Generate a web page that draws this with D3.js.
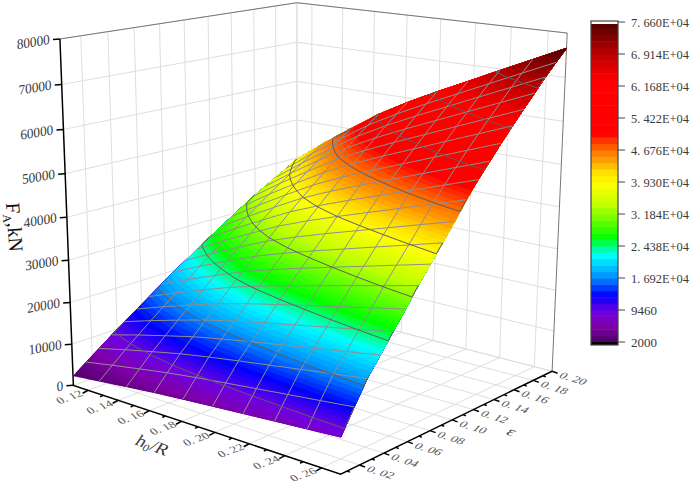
<!DOCTYPE html>
<html>
<head>
<meta charset="utf-8">
<script src="https://cdn.jsdelivr.net/npm/d3@7"></script>
<style>
  html, body { margin: 0; background: #fff; }
  text { font-family: "Liberation Serif", serif; fill: #3a3a3a; }
</style>
</head>
<body>
<script>
// values
var xValues = [0.11, 0.1278, 0.1456, 0.1633, 0.1811, 0.1989, 0.2167, 0.2344, 0.2522, 0.27];
var epsValues = [0.005, 0.0153, 0.0255, 0.0358, 0.0461, 0.0563, 0.0666, 0.0768, 0.0871, 0.0974,
                 0.1076, 0.1179, 0.1282, 0.1384, 0.1487, 0.1589, 0.1692, 0.1795, 0.1897, 0.2];
// one row per epsilon, one column per h0/R
var forceRows = [
  [2300, 3130, 3900, 4640, 5260, 5830, 6380, 6920, 7460, 8000],
  [4550, 5800, 6970, 8100, 9050, 9910, 10740, 11560, 12380, 13200],
  [6790, 8430, 9960, 11430, 12670, 13800, 14880, 15950, 17030, 18100],
  [9030, 10910, 12660, 14340, 15760, 17060, 18290, 19520, 20750, 21980],
  [11220, 13350, 15330, 17240, 18850, 20320, 21720, 23110, 24510, 25900],
  [13340, 15720, 17940, 20070, 21870, 23510, 25070, 26630, 28190, 29750],
  [15440, 18100, 20580, 22970, 24990, 26820, 28570, 30310, 32060, 33800],
  [17560, 20450, 23140, 25740, 27930, 29920, 31820, 33710, 35610, 37500],
  [19650, 22780, 25680, 28490, 30860, 33010, 35060, 37110, 39150, 41200],
  [21650, 25040, 28190, 31220, 33790, 36130, 38350, 40560, 42780, 45000],
  [23620, 27290, 30700, 33990, 36770, 39290, 41700, 44100, 46500, 48900],
  [25570, 29480, 33110, 36610, 39570, 42270, 44830, 47380, 49940, 52500],
  [27470, 31580, 35400, 39090, 42200, 45040, 47730, 50420, 53110, 55800],
  [29340, 33650, 37660, 41520, 44790, 47760, 50580, 53410, 56230, 59050],
  [31190, 35690, 39870, 43900, 47320, 50420, 53360, 56310, 59250, 62200],
  [33030, 37700, 42040, 46220, 49760, 52980, 56030, 59090, 62140, 65200],
  [34700, 39560, 44080, 48440, 52120, 55470, 58650, 61840, 65020, 68200],
  [36340, 41400, 46100, 50630, 54470, 57950, 61270, 64580, 67890, 71200],
  [37990, 43200, 48060, 52730, 56690, 60290, 63700, 67120, 70530, 73950],
  [39650, 45010, 50000, 54800, 58860, 62560, 66070, 69580, 73090, 76600]
];
var xTicks = [0.12, 0.14, 0.16, 0.18, 0.20, 0.22, 0.24, 0.26];
var xMinor = [0.13, 0.15, 0.17, 0.19, 0.21, 0.23, 0.25];
var epsTicks = [0.02, 0.04, 0.06, 0.08, 0.10, 0.12, 0.14, 0.16, 0.18, 0.20];
var epsMinor = [0.01, 0.03, 0.05, 0.07, 0.09, 0.11, 0.13, 0.15, 0.17, 0.19];
var zTicks = [0, 10000, 20000, 30000, 40000, 50000, 60000, 70000, 80000];
var barTicks = [2000, 9460, 16920, 24380, 31840, 39300, 46760, 54220, 61680, 69140, 76600];
var barLabels = ["2000", "9460", "1. 692E+04", "2. 438E+04", "3. 184E+04", "3. 930E+04", "4. 676E+04", "5. 422E+04", "6. 168E+04", "6. 914E+04", "7. 660E+04"];
var colorValues = [2000, 5960, 9000, 12950, 17150, 22280, 24380, 26240, 33900, 39000, 41600, 44400, 46760, 49800, 50700, 63000, 70000, 75900];
var colorStops = ["#4d0066", "#8000a8", "#7000e0", "#0000ff", "#0090ff", "#00ffff", "#00ff80", "#00ff00", "#c0ff00", "#ffff00", "#ffdf00", "#ffa000", "#ff7000", "#ff2000", "#ff0000", "#ff0000", "#b00000", "#5a0000"];

var w = 692;
var h = 492;

var svg = d3.select('body').append('svg').attr('width', w).attr('height', h).style('display', 'block');

// box corners on screen, [u, v, w, px, py]; the camera is fitted to them
var anchors = [
  [0, 0, 0, 73, 381], [1, 0, 0, 341, 478], [1, 1, 0, 552, 367], [0, 1, 0, 297, 310],
  [0, 0, 1, 60, 40], [1, 1, 1, 567, 34], [0, 1, 1, 297, 1]
];

function fitCamera(pts) {
  var rows = [], rhs = [];
  pts.forEach(function (p) {
    rows.push([p[0], p[1], p[2], 1, 0, 0, 0, 0, -p[3] * p[0], -p[3] * p[1], -p[3] * p[2]]);
    rhs.push(p[3]);
    rows.push([0, 0, 0, 0, p[0], p[1], p[2], 1, -p[4] * p[0], -p[4] * p[1], -p[4] * p[2]]);
    rhs.push(p[4]);
  });
  var m = d3.range(11).map(function (a) {
    return d3.range(12).map(function (b) {
      return d3.sum(rows, function (r, k) { return r[a] * (b < 11 ? r[b] : rhs[k]); });
    });
  });
  for (var i = 0; i < 11; i++) {
    var best = i;
    for (var j = i + 1; j < 11; j++) if (Math.abs(m[j][i]) > Math.abs(m[best][i])) best = j;
    var t = m[i]; m[i] = m[best]; m[best] = t;
    for (j = 0; j < 11; j++) {
      if (j == i) continue;
      var f = m[j][i] / m[i][i];
      for (var k = i; k < 12; k++) m[j][k] -= f * m[i][k];
    }
  }
  return m.map(function (r, a) { return r[11] / r[a]; });
}
var cam = fitCamera(anchors);

function project(u, v, z) {
  var d = cam[8] * u + cam[9] * v + cam[10] * z + 1;
  return [(cam[0] * u + cam[1] * v + cam[2] * z + cam[3]) / d,
          (cam[4] * u + cam[5] * v + cam[6] * z + cam[7]) / d];
}

var xScale = d3.scaleLinear().domain([0.11, 0.27]).range([0, 1]);
var epsScale = d3.scaleLinear().domain([0.005, 0.2]).range([0, 1]);
var zScale = d3.scaleLinear().domain([0, 80000]).range([0, 1]);

function pt(x, e, z) { return project(xScale(x), epsScale(e), zScale(z)); }

var xEnd = xScale.domain(), epsEnd = epsScale.domain(), zEnd = zScale.domain();
var line = d3.line();

// light grid on the walls and the floor
var grid = svg.append('g').attr('fill', 'none').attr('stroke', '#dedede').attr('stroke-width', 1);
function gridLine(a, b) { grid.append('path').attr('d', line([a, b])); }
xTicks.forEach(function (x) {
  gridLine(pt(x, epsEnd[0], 0), pt(x, epsEnd[1], 0));
  gridLine(pt(x, epsEnd[1], 0), pt(x, epsEnd[1], zEnd[1]));
});
epsTicks.forEach(function (e) {
  gridLine(pt(xEnd[0], e, 0), pt(xEnd[1], e, 0));
  gridLine(pt(xEnd[0], e, 0), pt(xEnd[0], e, zEnd[1]));
});
zTicks.forEach(function (z) {
  gridLine(pt(xEnd[0], epsEnd[0], z), pt(xEnd[0], epsEnd[1], z));
  gridLine(pt(xEnd[0], epsEnd[1], z), pt(xEnd[1], epsEnd[1], z));
});
gridLine(pt(xEnd[0], epsEnd[1], 0), pt(xEnd[0], epsEnd[1], zEnd[1]));

// frame
svg.append('path')
  .attr('d', line([pt(xEnd[0], epsEnd[0], zEnd[1]), pt(xEnd[0], epsEnd[1], zEnd[1]), pt(xEnd[1], epsEnd[1], zEnd[1]), pt(xEnd[1], epsEnd[1], 0)]))
  .attr('fill', 'none').attr('stroke', '#777').attr('stroke-width', 1);

// surface as filled bands
var colorScale = d3.scaleLinear().domain(colorValues).range(colorStops);
var levels = d3.range(51).map(function (k) { return 2000 + k * 1492; });
var fineLevels = d3.range(101).map(function (k) { return 2000 + k * 746; });
var nx = xValues.length, ne = epsValues.length;
var flat = d3.merge(forceRows);

function gridToScreen(c) {
  var fx = Math.max(0, Math.min(nx - 1, c[0] - 0.5));
  var fy = Math.max(0, Math.min(ne - 1, c[1] - 0.5));
  var i = Math.min(nx - 2, Math.floor(fx)), j = Math.min(ne - 2, Math.floor(fy));
  var a = fx - i, b = fy - j;
  var z = (1 - a) * (1 - b) * forceRows[j][i] + a * (1 - b) * forceRows[j][i + 1] +
          (1 - a) * b * forceRows[j + 1][i] + a * b * forceRows[j + 1][i + 1];
  var x = xValues[i] + a * (xValues[i + 1] - xValues[i]);
  var e = epsValues[j] + b * (epsValues[j + 1] - epsValues[j]);
  return pt(x, e, z);
}
function bandPath(rings) {
  return rings.map(function (r) {
    return 'M' + r.map(function (c) { return gridToScreen(c).join(','); }).join('L') + 'Z';
  }).join('');
}

var contourGen = d3.contours().size([nx, ne]).smooth(true);
var surface = svg.append('g');
contourGen.thresholds(fineLevels)(flat).forEach(function (c) {
  if (!c.coordinates.length) return;
  var d = c.coordinates.map(bandPath).join('');
  surface.append('path').attr('d', d).attr('fill', colorScale(c.value + 373))
    .attr('stroke', colorScale(c.value + 373)).attr('stroke-width', 0.3);
});

// mesh
var mesh = svg.append('g').attr('fill', 'none').attr('stroke', '#8f8f8f').attr('stroke-width', 1);
epsValues.slice(1, -1).forEach(function (e, j) {
  mesh.append('path').attr('d', line(xValues.map(function (x, i) { return pt(x, e, forceRows[j + 1][i]); })));
});
xValues.slice(1, -1).forEach(function (x, i) {
  mesh.append('path').attr('d', line(epsValues.map(function (e, j) { return pt(x, e, forceRows[j][i + 1]); })));
});

// iso lines at the colour bar ticks, border pieces left out
function onBorder(c) { return c[0] <= 0 || c[0] >= nx || c[1] <= 0 || c[1] >= ne; }
var iso = svg.append('g').attr('fill', 'none').attr('stroke', '#5e5e5e').attr('stroke-width', 1);
contourGen.thresholds(barTicks.slice(1, -1))(flat).forEach(function (c) {
  c.coordinates.forEach(function (poly) {
    poly.forEach(function (ring) {
      var run = [];
      ring.forEach(function (p, k) {
        if (!onBorder(p) || (k > 0 && !onBorder(ring[k - 1])) || (k < ring.length - 1 && !onBorder(ring[k + 1]))) {
          run.push(gridToScreen(p));
        } else {
          if (run.length > 1) iso.append('path').attr('d', line(run));
          run = [];
        }
      });
      if (run.length > 1) iso.append('path').attr('d', line(run));
    });
  });
});

// axes
var axisG = svg.append('g').attr('fill', 'none').attr('stroke', '#000').attr('stroke-width', 1.5);
axisG.append('path').attr('d', line([pt(xEnd[0], epsEnd[0], zEnd[1]), pt(xEnd[0], epsEnd[0], 0), pt(xEnd[1], epsEnd[0], 0), pt(xEnd[1], epsEnd[1], 0)]));

function tick(p, dx, dy) { axisG.append('path').attr('d', line([p, [p[0] + dx, p[1] + dy]])); }

var labels = svg.append('g').attr('font-size', 13.5);
function skewText(str, p, a, b, c, d, anchor) {
  return labels.append('text').attr('transform', 'matrix(' + [a, b, c, d, p[0], p[1]].join(',') + ')')
    .attr('text-anchor', anchor).text(str);
}

zTicks.forEach(function (z) {
  var p = pt(xEnd[0], epsEnd[0], z);
  tick(p, -7, 0.5);
  skewText(String(z), [p[0] - 10, p[1] + 5], 0.98, -0.16, 0.03, 1.05, 'end');
});
xTicks.forEach(function (x) {
  var p = pt(x, epsEnd[0], 0);
  tick(p, -5.5, 3);
  skewText(d3.format('.2f')(x).replace('.', '. '), [p[0] - 4, p[1] + 5], 0.9, -0.33, 0.55, 0.6, 'end').style('fill', '#555');
});
xMinor.forEach(function (x) {
  var p = pt(x, epsEnd[0], 0);
  tick(p, -3, 1.6);
});
epsTicks.forEach(function (e) {
  var p = pt(xEnd[1], e, 0);
  tick(p, 5.5, 2);
  skewText(d3.format('.2f')(e).replace('.', '. '), [p[0] + 6, p[1] + 6], 0.95, 0.3, -0.55, 0.6, 'start').style('fill', '#555');
});
epsMinor.forEach(function (e) {
  var p = pt(xEnd[1], e, 0);
  tick(p, 3, 1.1);
});

// axis titles
var yTitle = svg.append('text').attr('transform', 'translate(6,203) rotate(86)').attr('font-size', 20).style('fill', '#111');
yTitle.append('tspan').text('F');
yTitle.append('tspan').attr('font-size', 12).attr('dy', 4).text('A');
yTitle.append('tspan').attr('dy', -4).text(',kN');
var xTitle = svg.append('text').attr('transform', 'matrix(0.93,0.36,-0.5,0.75,134,444)').attr('font-size', 19);
xTitle.append('tspan').text('h');
xTitle.append('tspan').attr('font-size', 12).attr('dy', 3).text('0');
xTitle.append('tspan').attr('dy', -3).text('/R');
svg.append('text').attr('transform', 'matrix(0.95,0.3,-0.55,0.6,505,434)').attr('font-size', 18).text('ε');

// colour bar
var barScale = d3.scaleLinear().domain([2000, 76600]).range([342, 22]);
var bar = svg.append('g');
levels.slice(0, -1).forEach(function (v) {
  bar.append('rect').attr('x', 591).attr('width', 27)
    .attr('y', barScale(v + 1492)).attr('height', barScale(v) - barScale(v + 1492) + 0.5)
    .attr('fill', colorScale(v + 746));
});
bar.append('rect').attr('x', 591).attr('width', 27).attr('y', barScale(2000)).attr('height', 3).attr('fill', '#000');
bar.append('rect').attr('x', 591).attr('width', 27).attr('y', 21).attr('height', 3).attr('fill', '#fff');
bar.append('rect').attr('x', 591).attr('width', 27).attr('y', 21).attr('height', 324)
  .attr('fill', 'none').attr('stroke', '#444').attr('stroke-width', 1.2);
barTicks.forEach(function (v, k) {
  bar.append('line').attr('x1', 618).attr('x2', 625).attr('y1', barScale(v)).attr('y2', barScale(v))
    .attr('stroke', '#444').attr('stroke-width', 1);
  var t = bar.append('text').attr('x', 631).attr('y', barScale(v) + 4.5).attr('font-size', 13).text(barLabels[k]);
  if (barLabels[k].length > 4) t.attr('textLength', 58).attr('lengthAdjust', 'spacingAndGlyphs');
});
</script>
</body>
</html>
